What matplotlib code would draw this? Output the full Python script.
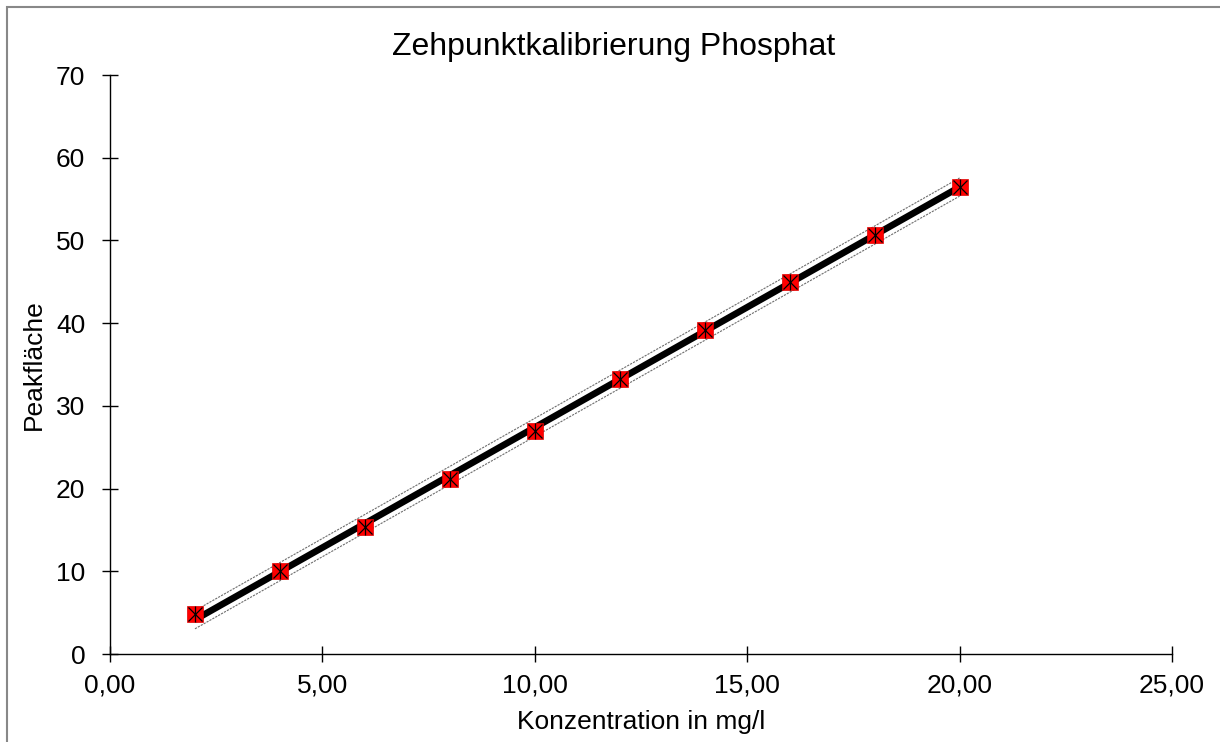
import matplotlib
matplotlib.use("Agg")
import matplotlib.pyplot as plt
from matplotlib.patches import Rectangle
from matplotlib.ticker import FuncFormatter, MultipleLocator
import numpy as np

plt.rcParams['font.family'] = ['Liberation Sans', 'DejaVu Sans']

# Kalibrierpunkte
konzentration = [2, 4, 6, 8, 10, 12, 14, 16, 18, 20]
peakflaeche = [4.8, 10.0, 15.3, 21.2, 27.0, 33.3, 39.2, 45.0, 50.7, 56.5]
band_halfwidth = 1.1

title = "Zehpunktkalibrierung Phosphat"
xlabel = "Konzentration in mg/l"
ylabel = "Peakfläche"

W, H = 1220, 742
fig = plt.figure(figsize=(W / 100, H / 100), dpi=100)
ax = fig.add_axes([110 / W, 1 - 654 / H, 1062 / W, 579 / H])

# Regressionsgerade und Bänder
x = np.array(konzentration, dtype=float)
y = np.array(peakflaeche)
m, b = np.polyfit(x, y, 1)
fit = m * x + b
ax.plot(x, fit, color='black', lw=4.8, solid_capstyle='butt', zorder=3)
ax.plot(x, fit + band_halfwidth, color='#6e6e6e', lw=0.8,
        linestyle=(0, (2, 1)), zorder=2)
ax.plot(x, fit - band_halfwidth, color='#6e6e6e', lw=0.8,
        linestyle=(0, (2, 1)), zorder=2)

# Messpunkte
ax.plot(x, y, linestyle='none', marker='s', markersize=11,
        markerfacecolor='#ff0000', markeredgecolor='#e00000',
        markeredgewidth=0.5, zorder=4)
ax.plot(x, y, linestyle='none', marker='x', markersize=9.5,
        color='black', markeredgewidth=0.9, zorder=5)
ax.plot(x, y, linestyle='none', marker='|', markersize=11,
        color='black', markeredgewidth=0.9, zorder=5)

ax.set_xlim(0, 25)
ax.set_ylim(0, 70)
ax.xaxis.set_major_locator(MultipleLocator(5))
ax.yaxis.set_major_locator(MultipleLocator(10))
ax.xaxis.set_major_formatter(FuncFormatter(
    lambda v, p: f"{v:.2f}".replace('.', ',')))
ax.yaxis.set_major_formatter(FuncFormatter(lambda v, p: f"{v:.0f}"))

for s in ['top', 'right']:
    ax.spines[s].set_visible(False)
for s in ['left', 'bottom']:
    ax.spines[s].set_linewidth(1.0)
ax.tick_params(direction='inout', length=11.5, width=1.0,
               labelsize=19, colors='black')
ax.tick_params(axis='x', pad=8)
ax.tick_params(axis='y', pad=12)

fig.text(614 / W, 1 - 47 / H, title, fontsize=23, ha='center', va='center')
fig.text(641 / W, 1 - 722 / H, xlabel, fontsize=19, ha='center', va='center')
fig.text(34 / W, 1 - 365 / H, ylabel, fontsize=19, ha='center',
         va='center', rotation=90)

# Rahmen
fig.patches.append(Rectangle((7 / W, -0.05), 1.1, 1 - 7 / H + 0.05,
                             transform=fig.transFigure, fill=False,
                             edgecolor='#888888', lw=1.5))

fig.savefig('out.png', dpi=100)
